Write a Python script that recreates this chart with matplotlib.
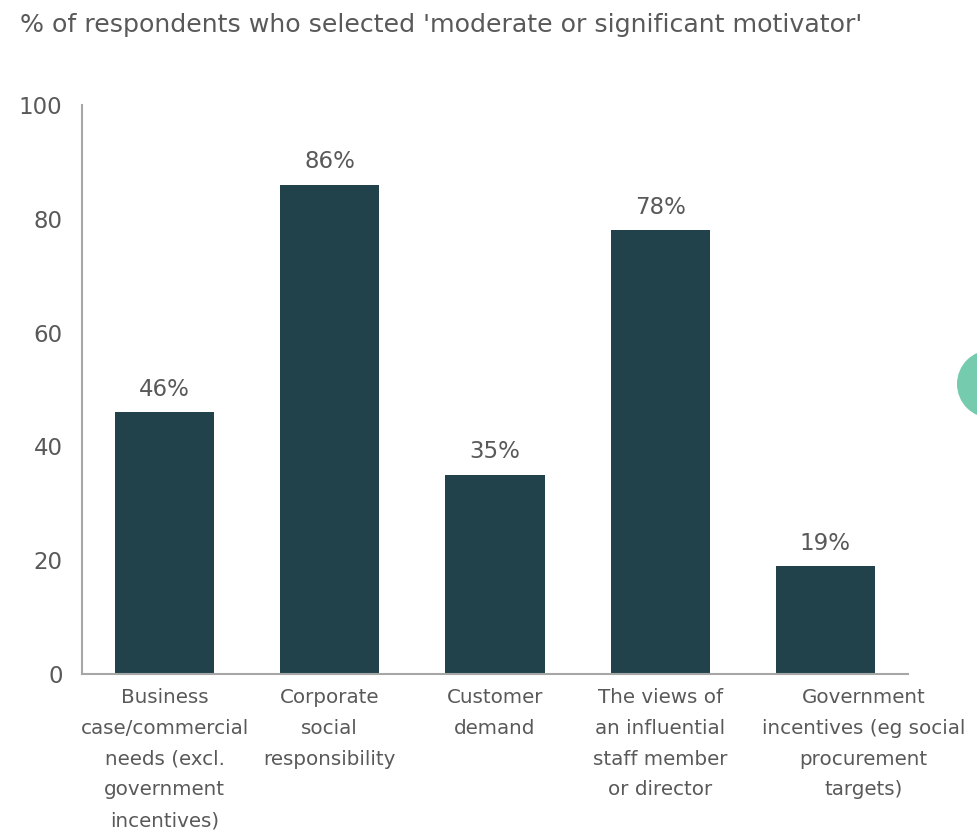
import matplotlib
matplotlib.use("Agg")
import matplotlib.pyplot as plt
from matplotlib.patches import Circle
from matplotlib.transforms import IdentityTransform, ScaledTranslation

categories = [
    "Business\ncase/commercial\nneeds (excl.\ngovernment\nincentives)",
    "Corporate\nsocial\nresponsibility",
    "Customer\ndemand",
    "The views of\nan influential\nstaff member\nor director",
    "Government\nincentives (eg social\nprocurement\ntargets)",
]
values = [46, 86, 35, 78, 19]
yticks = [0, 20, 40, 60, 80, 100]

bar_color = "#21424a"
text_color = "#595959"
axis_color = "#a6a6a6"

plt.rcParams["font.family"] = ["DejaVu Sans"]

fig = plt.figure(figsize=(9.78, 8.33), dpi=100)
ax = fig.add_axes([82 / 978, 1 - 674 / 833, 826 / 978, 569 / 833])

x = range(len(values))
ax.bar(x, values, width=0.6, color=bar_color)
for xi, v in zip(x, values):
    ax.text(xi, v + 2.0, f"{v}%", ha="center", va="bottom",
            fontsize=16.5, color=text_color)

ax.set_xlim(-0.5, len(values) - 0.5)
ax.set_ylim(0, 100)
ax.set_yticks(yticks)
ax.set_yticklabels([str(t) for t in yticks], fontsize=16.5, color=text_color)
ax.set_xticks(list(x))
ax.set_xticklabels(categories, fontsize=14.3, color=text_color, linespacing=1.79)
ax.tick_params(axis="y", length=0, pad=14)
ax.tick_params(axis="x", length=0, pad=10)

# the long last label sits a little to the right of its bar
last = ax.get_xticklabels()[-1]
last.set_transform(last.get_transform() + ScaledTranslation(0.38, 0, fig.dpi_scale_trans))

for side in ("top", "right"):
    ax.spines[side].set_visible(False)
for side in ("left", "bottom"):
    ax.spines[side].set_color(axis_color)
    ax.spines[side].set_linewidth(1.5)

fig.text(20 / 978, 1 - 32 / 833, "% of respondents who selected 'moderate or significant motivator'",
         fontsize=18.2, color=text_color, ha="left", va="baseline")

# decorative circle clipped at the right edge (pixel coordinates)
fig.patches.append(Circle((991, 833 - 384), 34, transform=IdentityTransform(),
                          facecolor="#74cbae", edgecolor="none", figure=fig))

fig.savefig("out.png", dpi=100)
